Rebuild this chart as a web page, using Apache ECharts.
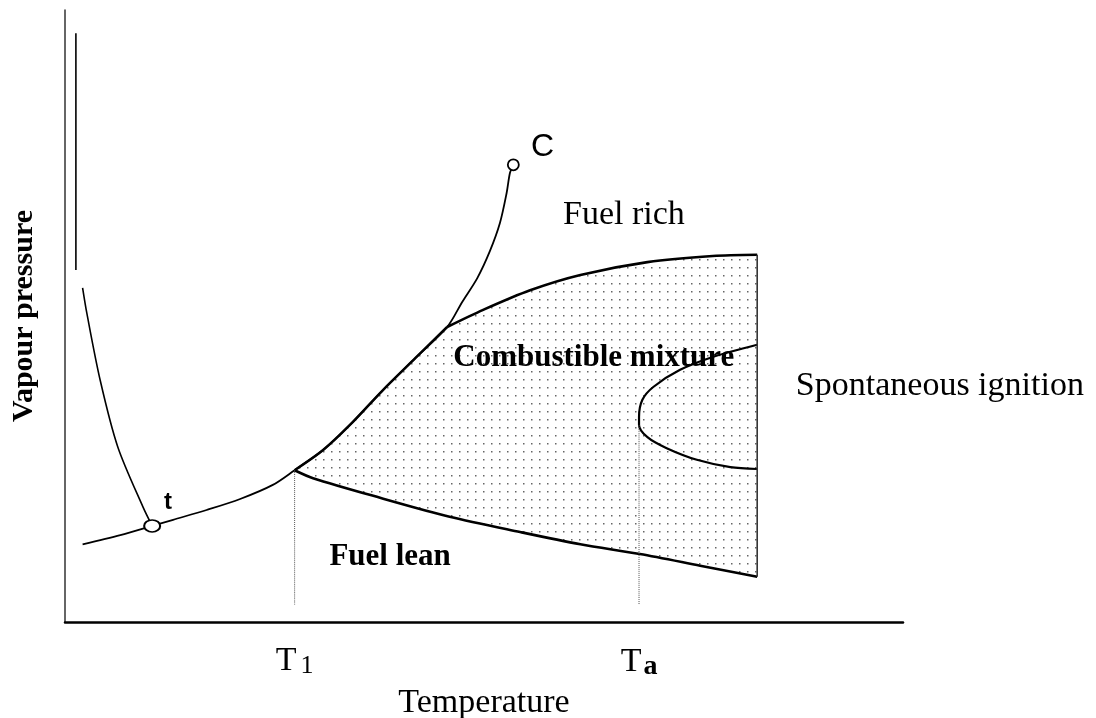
<!DOCTYPE html>
<html>
<head>
<meta charset="utf-8">
<title>Vapour pressure / flammability diagram</title>
<script src="https://cdn.jsdelivr.net/npm/echarts@6/dist/echarts.min.js"></script>
<style>
  html, body { margin: 0; padding: 0; background: #fff; }
  #main { width: 1096px; height: 718px; }
</style>
</head>
<body>
<div id="main"></div>
<script>
// schematic diagram, arbitrary units (0-100 on both axes)
var sublimation = [[2.1, 54.6], [2.6, 50.5], [4.2, 39.5], [6.3, 28.6], [9.3, 18.8], [10.4, 15.7]];
var vapourCurve = [[2.1, 12.7], [6.6, 14.2], [10.4, 15.7], [12.9, 16.7], [16.9, 18.3], [20.9, 20.1], [24.8, 22.4],
  [27.4, 24.8], [30.8, 28.1], [34.0, 32.2], [37.8, 37.7], [41.8, 43.1], [45.6, 48.2],
  [47.4, 52.3], [49.2, 56.2], [50.7, 60.6], [51.9, 65.2], [52.7, 70.1], [53.1, 73.4], [53.5, 74.7]];
var vapourBoundary = [[27.4, 24.8], [30.8, 28.1], [34.0, 32.2], [37.8, 37.7], [41.8, 43.1], [45.6, 48.2]];
var upperLimit = [[45.6, 48.2], [49.9, 51.0], [55.5, 54.2], [61.5, 56.7], [69.5, 58.8], [77.3, 59.8], [82.6, 60.0]];
var lowerLimit = [[27.4, 24.8], [29.6, 23.5], [37.6, 20.3], [45.9, 17.2], [54.3, 14.7], [61.5, 12.7], [68.6, 11.1], [75.8, 9.2], [82.6, 7.4]];
var rightEdge = [[82.6, 60.0], [82.6, 7.4]];
var ignition = [[82.6, 45.3], [77.3, 43.3], [73.4, 41.2], [70.2, 38.4], [68.9, 36.3], [68.5, 33.5], [68.5, 32.2],
  [69.5, 30.2], [71.8, 28.4], [75.4, 26.5], [79.4, 25.3], [82.6, 25.0]];
var dropT1 = [[27.4, 24.8], [27.4, 2.8]];
var dropTa = [[68.5, 32.2], [68.5, 2.8]];
var strayLine = [[1.3, 96.2], [1.3, 57.5]];
var triplePoint = [10.4, 15.7];
var criticalPoint = [53.5, 74.7];
var tickValues = [27.4, 68.5]; // T1, Ta
var regionNames = ['Fuel rich', 'Combustible mixture', 'Spontaneous ignition', 'Fuel lean', 't', 'C'];
var regionPos = [[66.7, 66.5], [63.1, 43.1], [104.4, 38.6], [38.8, 10.6], [12.3, 19.6], [57.0, 77.6]];

var labelStyle = {
  'Fuel rich': { fontFamily: 'Liberation Serif', fontSize: 34 },
  'Combustible mixture': { fontFamily: 'Liberation Serif', fontSize: 31, fontWeight: 'bold' },
  'Spontaneous ignition': { fontFamily: 'Liberation Serif', fontSize: 34 },
  'Fuel lean': { fontFamily: 'Liberation Serif', fontSize: 31, fontWeight: 'bold' },
  't': { fontFamily: 'Liberation Sans', fontSize: 24, fontWeight: 'bold' },
  'C': { fontFamily: 'Liberation Sans', fontSize: 32 }
};

// dotted shading
var dots = document.createElement('canvas');
dots.width = 8;
dots.height = 8;
var ctx = dots.getContext('2d');
ctx.fillStyle = '#666';
ctx.fillRect(3, 3, 1.5, 1.5);

var fillOutline = vapourBoundary.concat(upperLimit.slice(1), rightEdge.slice(1), lowerLimit.slice().reverse().slice(1));

function lineSeries(data, width, type, color) {
  return {
    type: 'line',
    data: data,
    smooth: 0.3,
    symbol: 'none',
    silent: true,
    lineStyle: { color: color || '#000', width: width, type: type || 'solid' },
    z: 3
  };
}

var chart = echarts.init(document.getElementById('main'));
var option = {
  animation: false,
  backgroundColor: '#fff',
  grid: { left: 65, top: 10, right: 193, bottom: 96, outerBoundsMode: 'none' },
  xAxis: {
    type: 'value',
    min: 0,
    max: 100,
    splitLine: { show: false },
    axisTick: { show: false },
    axisLine: { lineStyle: { color: '#000', width: 2.5 } },
    axisLabel: {
      customValues: tickValues,
      margin: 21,
      formatter: function (v) {
        return v === tickValues[0] ? '{t|T}{s|1}' : '{t|T}{a|a}';
      },
      rich: {
        t: { fontFamily: 'Liberation Serif', fontSize: 34, color: '#000' },
        s: { fontFamily: 'Liberation Serif', fontSize: 26, color: '#000', padding: [10, 0, 0, 4] },
        a: { fontFamily: 'Liberation Serif', fontSize: 28, fontWeight: 'bold', color: '#000', padding: [10, 0, 0, 2] }
      }
    },
    name: 'Temperature',
    nameLocation: 'middle',
    nameGap: 53,
    nameTextStyle: { fontFamily: 'Liberation Serif', fontSize: 34, color: '#000' }
  },
  yAxis: {
    type: 'value',
    min: 0,
    max: 100,
    splitLine: { show: false },
    axisTick: { show: false },
    axisLabel: { show: false },
    axisLine: { lineStyle: { color: '#333', width: 1.5 } },
    name: 'Vapour pressure',
    nameLocation: 'middle',
    nameGap: 26,
    nameTextStyle: { fontFamily: 'Liberation Serif', fontSize: 30, fontWeight: 'bold', color: '#000' }
  },
  series: [
    {
      type: 'custom',
      silent: true,
      data: [[0, 0]],
      z: 1,
      renderItem: function (params, api) {
        var pts = fillOutline.map(function (p) { return api.coord(p); });
        return {
          type: 'polygon',
          shape: { points: pts },
          style: { fill: { image: dots, repeat: 'repeat' } }
        };
      }
    },
    lineSeries(sublimation, 1.6),
    lineSeries(vapourCurve, 1.8),
    lineSeries(vapourBoundary, 2.5),
    lineSeries(upperLimit, 2.6),
    lineSeries(lowerLimit, 2.6),
    lineSeries(ignition, 2.2),
    lineSeries(rightEdge, 1.6, 'solid', '#333'),
    lineSeries(dropT1, 1, 'dotted', '#555'),
    lineSeries(dropTa, 1, 'dotted', '#555'),
    lineSeries(strayLine, 1.6),
    {
      type: 'scatter',
      silent: true,
      z: 5,
      data: [
        { value: triplePoint, symbolSize: [16, 12] },
        { value: criticalPoint, symbolSize: [11, 11] }
      ],
      symbol: 'circle',
      itemStyle: { color: '#fff', borderColor: '#000', borderWidth: 1.8, opacity: 1 }
    },
    {
      type: 'scatter',
      silent: true,
      clip: false,
      z: 6,
      symbolSize: 0,
      itemStyle: { opacity: 1 },
      data: regionNames.map(function (name, i) {
        return {
          name: name,
          value: regionPos[i],
          label: Object.assign({ show: true, position: 'inside', formatter: name, color: '#000' }, labelStyle[name])
        };
      })
    }
  ]
};
chart.setOption(option);
</script>
</body>
</html>
